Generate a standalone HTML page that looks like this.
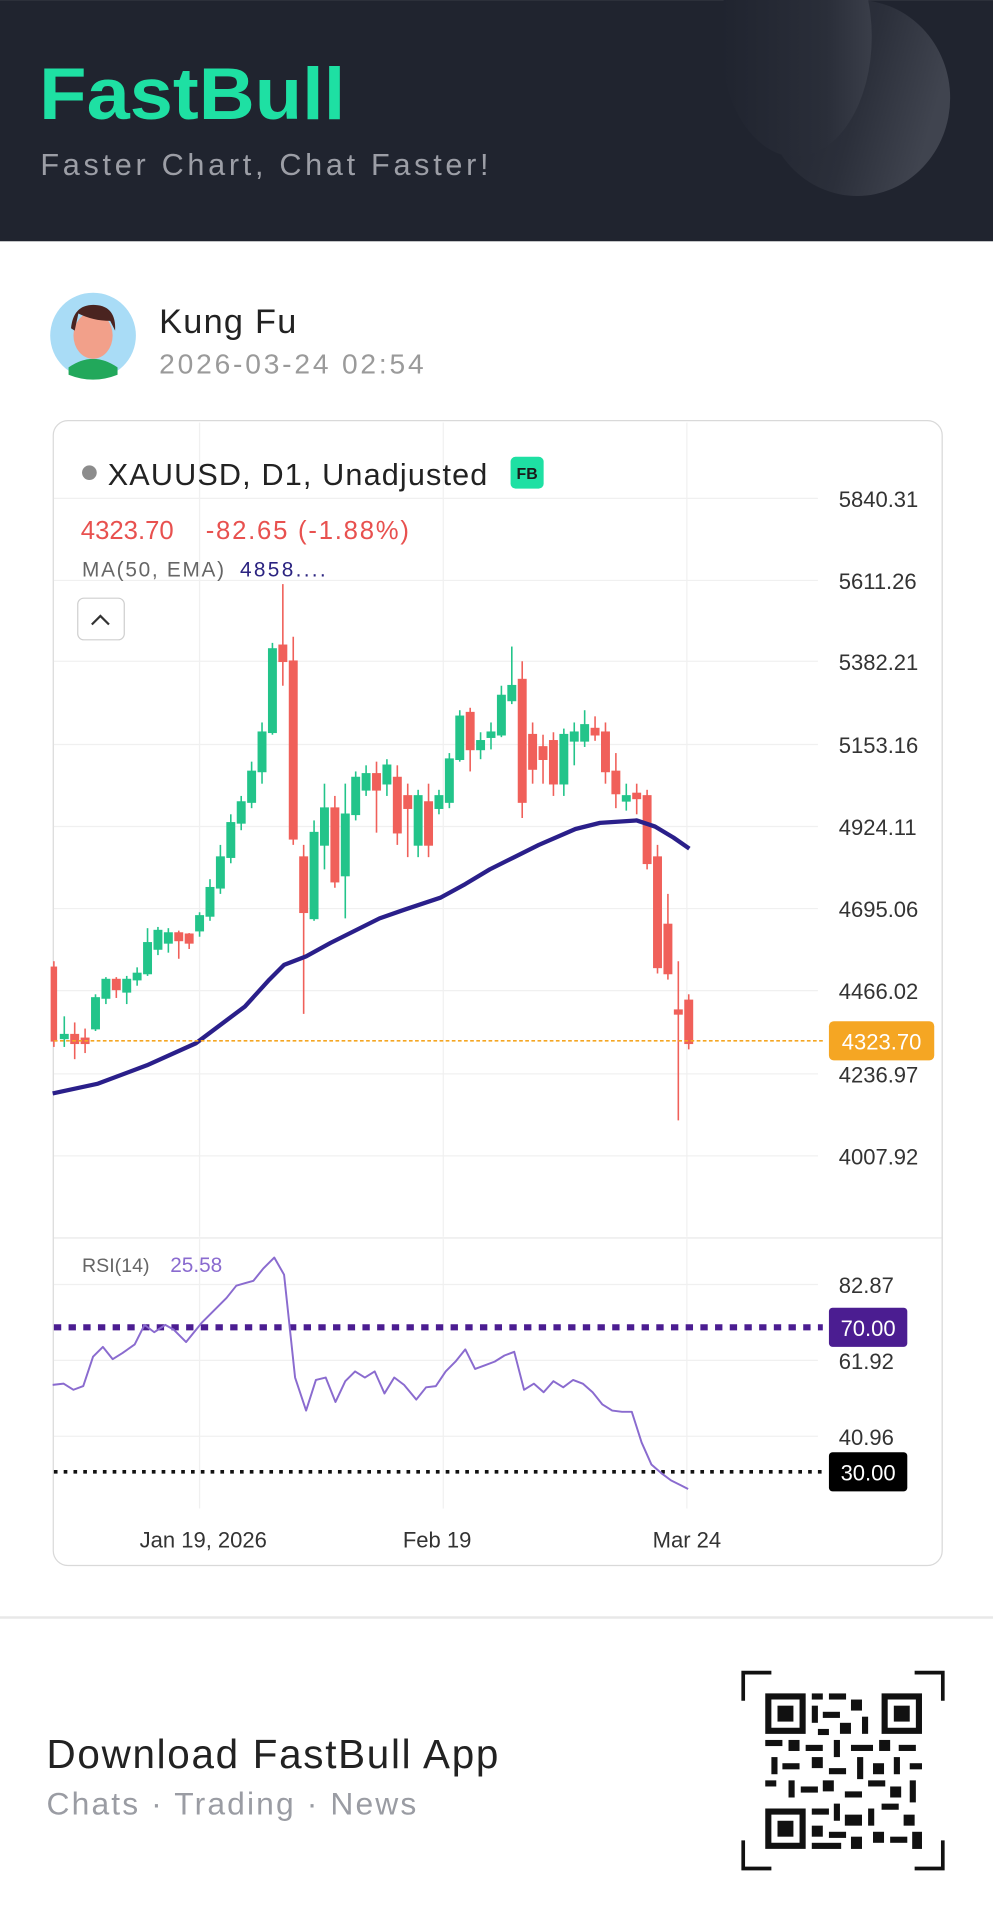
<!DOCTYPE html>
<html><head><meta charset="utf-8"><style>html,body{margin:0;padding:0;background:#fff}svg{display:block}</style></head><body>
<svg width="993" height="1920" viewBox="0 0 811 1568" xmlns="http://www.w3.org/2000/svg" font-family="Liberation Sans, sans-serif">
<defs>
<linearGradient id="g1" x1="0" y1="0" x2="1" y2="0"><stop offset="0" stop-color="#20242f"/><stop offset="0.7" stop-color="#2a2e39"/><stop offset="1" stop-color="#3a3e49"/></linearGradient>
<linearGradient id="g2" x1="0" y1="0" x2="1" y2="0.3"><stop offset="0" stop-color="#20242f"/><stop offset="0.6" stop-color="#2b2f3a"/><stop offset="1" stop-color="#40444f"/></linearGradient>
<clipPath id="hc"><rect x="0" y="0" width="811" height="197"/></clipPath>
</defs>
<rect x="0" y="0" width="811" height="197" fill="#20242f"/>
<g clip-path="url(#hc)">
<ellipse cx="700" cy="80" rx="76" ry="80" fill="url(#g2)"/>
<ellipse cx="650" cy="30" rx="62" ry="98" fill="url(#g1)"/>
</g>
<text x="32" y="97" font-size="60" font-weight="bold" fill="#1ee0a3" textLength="250" lengthAdjust="spacingAndGlyphs">FastBull</text>
<text x="33" y="143" font-size="25" fill="#9c9ea6" textLength="366" lengthAdjust="spacing">Faster Chart, Chat Faster!</text>

<circle cx="76" cy="274" r="35" fill="#a9dcf6"/>
<path d="M56 300 Q76 286 96 300 L96 306 Q76 314 56 306Z" fill="#22a85b"/>
<ellipse cx="76" cy="274" rx="16" ry="19" fill="#f2a08a"/>
<path d="M58 268 Q60 248 78 249 Q95 250 94 270 L90 262 Q76 262 64 256 L61 270Z" fill="#4a2420"/>
<text x="130" y="272" font-size="28" fill="#222" textLength="112" lengthAdjust="spacing">Kung Fu</text>
<text x="130" y="305" font-size="23" fill="#9a9a9a" textLength="216" lengthAdjust="spacing">2026-03-24 02:54</text>

<rect x="43.5" y="343.5" width="726" height="935" rx="12" fill="#fff" stroke="#d9d9d9"/>
<g stroke="#f0f0f0" stroke-width="1">
<line x1="44" y1="407" x2="668" y2="407"/><line x1="44" y1="474" x2="668" y2="474"/><line x1="44" y1="540" x2="668" y2="540"/><line x1="44" y1="608" x2="668" y2="608"/><line x1="44" y1="675" x2="668" y2="675"/><line x1="44" y1="742" x2="668" y2="742"/><line x1="44" y1="809" x2="668" y2="809"/><line x1="44" y1="877" x2="668" y2="877"/><line x1="44" y1="944" x2="668" y2="944"/>
<line x1="163" y1="345" x2="163" y2="1010"/><line x1="362" y1="345" x2="362" y2="1010"/><line x1="561" y1="345" x2="561" y2="1010"/>
<line x1="163" y1="1012" x2="163" y2="1232"/><line x1="362" y1="1012" x2="362" y2="1232"/><line x1="561" y1="1012" x2="561" y2="1232"/>
<line x1="44" y1="1049" x2="668" y2="1049"/><line x1="44" y1="1111" x2="668" y2="1111"/><line x1="44" y1="1173" x2="668" y2="1173"/>
</g>
<line x1="44" y1="1011" x2="769" y2="1011" stroke="#e6e6e6"/>

<circle cx="73" cy="386" r="6" fill="#8c8c8c"/>
<text x="88" y="396" font-size="25" fill="#222" textLength="310" lengthAdjust="spacing">XAUUSD, D1, Unadjusted</text>
<rect x="417" y="373" width="27" height="26" rx="4" fill="#1ee0a3"/>
<text x="430.5" y="391" font-size="13" font-weight="bold" fill="#1a1a1a" text-anchor="middle">FB</text>
<text x="66" y="440" font-size="21" fill="#e8514f">4323.70</text>
<text x="168" y="440" font-size="21" fill="#e8514f" textLength="166" lengthAdjust="spacing">-82.65 (-1.88%)</text>
<text x="67" y="471" font-size="17" fill="#666" textLength="116" lengthAdjust="spacing">MA(50, EMA)</text>
<text x="196" y="471" font-size="17" fill="#2b2380" textLength="70" lengthAdjust="spacing">4858....</text>
<rect x="63.5" y="488.5" width="38" height="34" rx="5" fill="#fff" stroke="#cfcfcf"/>
<path d="M75 510 L82 503 L89 510" fill="none" stroke="#333" stroke-width="1.8"/>

<g font-size="18" fill="#333">
<text x="685" y="414">5840.31</text><text x="685" y="481">5611.26</text><text x="685" y="547">5382.21</text><text x="685" y="615">5153.16</text><text x="685" y="682">4924.11</text><text x="685" y="749">4695.06</text><text x="685" y="816">4466.02</text><text x="685" y="884">4236.97</text><text x="685" y="951">4007.92</text>
</g>

<g>
<g stroke="#23c48a" fill="#23c48a" stroke-width="1.3">
<line x1="52.5" y1="830" x2="52.5" y2="855"/><rect x="49.5" y="845" width="6" height="3"/>
<line x1="78" y1="812" x2="78" y2="842"/><rect x="75" y="815" width="6" height="25"/>
<line x1="86.5" y1="798" x2="86.5" y2="820"/><rect x="83.5" y="800" width="6" height="15"/>
<line x1="103.5" y1="797" x2="103.5" y2="820"/><rect x="100.5" y="800" width="6" height="10"/>
<line x1="112" y1="790" x2="112" y2="805"/><rect x="109" y="795" width="6" height="5"/>
<line x1="120.5" y1="758" x2="120.5" y2="797"/><rect x="117.5" y="770" width="6" height="25"/>
<line x1="129" y1="757" x2="129" y2="780"/><rect x="126" y="760" width="6" height="15"/>
<line x1="137.5" y1="758" x2="137.5" y2="778"/><rect x="134.5" y="762" width="6" height="8"/>
<line x1="163" y1="745" x2="163" y2="765"/><rect x="160" y="748" width="6" height="12"/>
<line x1="171.5" y1="718" x2="171.5" y2="752"/><rect x="168.5" y="725" width="6" height="23"/>
<line x1="180" y1="690" x2="180" y2="730"/><rect x="177" y="700" width="6" height="25"/>
<line x1="188.5" y1="665" x2="188.5" y2="705"/><rect x="185.5" y="672" width="6" height="28"/>
<line x1="197" y1="650" x2="197" y2="678"/><rect x="194" y="655" width="6" height="17"/>
<line x1="205.5" y1="622" x2="205.5" y2="660"/><rect x="202.5" y="630" width="6" height="25"/>
<line x1="214" y1="590" x2="214" y2="640"/><rect x="211" y="598" width="6" height="32"/>
<line x1="222.5" y1="525" x2="222.5" y2="600"/><rect x="219.5" y="530" width="6" height="68"/>
<line x1="256.5" y1="670" x2="256.5" y2="752"/><rect x="253.5" y="680" width="6" height="70"/>
<line x1="265" y1="640" x2="265" y2="710"/><rect x="262" y="660" width="6" height="30"/>
<line x1="282" y1="640" x2="282" y2="750"/><rect x="279" y="665" width="6" height="50"/>
<line x1="290.5" y1="630" x2="290.5" y2="670"/><rect x="287.5" y="635" width="6" height="30"/>
<line x1="299" y1="625" x2="299" y2="650"/><rect x="296" y="632" width="6" height="13"/>
<line x1="316" y1="620" x2="316" y2="650"/><rect x="313" y="625" width="6" height="15"/>
<line x1="341.5" y1="645" x2="341.5" y2="700"/><rect x="338.5" y="650" width="6" height="40"/>
<line x1="358.5" y1="645" x2="358.5" y2="665"/><rect x="355.5" y="650" width="6" height="10"/>
<line x1="367" y1="615" x2="367" y2="660"/><rect x="364" y="620" width="6" height="35"/>
<line x1="375.5" y1="580" x2="375.5" y2="622"/><rect x="372.5" y="585" width="6" height="35"/>
<line x1="392.5" y1="598" x2="392.5" y2="620"/><rect x="389.5" y="605" width="6" height="7"/>
<line x1="401" y1="590" x2="401" y2="612"/><rect x="398" y="598" width="6" height="4"/>
<line x1="409.5" y1="560" x2="409.5" y2="602"/><rect x="406.5" y="568" width="6" height="32"/>
<line x1="418" y1="528" x2="418" y2="575"/><rect x="415" y="560" width="6" height="12"/>
<line x1="460.5" y1="595" x2="460.5" y2="650"/><rect x="457.5" y="600" width="6" height="40"/>
<line x1="469" y1="590" x2="469" y2="625"/><rect x="466" y="598" width="6" height="7"/>
<line x1="477.5" y1="580" x2="477.5" y2="610"/><rect x="474.5" y="592" width="6" height="13"/>
<line x1="511.5" y1="640" x2="511.5" y2="662"/><rect x="508.5" y="650" width="6" height="4"/>
</g>
<g stroke="#f0605a" fill="#f0605a" stroke-width="1.3">
<line x1="44" y1="785" x2="44" y2="855"/><rect x="42" y="790" width="4" height="60"/>
<line x1="61" y1="835" x2="61" y2="865"/><rect x="58" y="845" width="6" height="7"/>
<line x1="69.5" y1="840" x2="69.5" y2="860"/><rect x="66.5" y="848" width="6" height="4"/>
<line x1="95" y1="798" x2="95" y2="815"/><rect x="92" y="800" width="6" height="8"/>
<line x1="146" y1="760" x2="146" y2="783"/><rect x="143" y="762" width="6" height="6"/>
<line x1="154.5" y1="762" x2="154.5" y2="775"/><rect x="151.5" y="763" width="6" height="7"/>
<line x1="231" y1="477" x2="231" y2="560"/><rect x="228" y="527" width="6" height="13"/>
<line x1="239.5" y1="520" x2="239.5" y2="690"/><rect x="236.5" y="540" width="6" height="145"/>
<line x1="248" y1="690" x2="248" y2="828"/><rect x="245" y="700" width="6" height="45"/>
<line x1="273.5" y1="650" x2="273.5" y2="725"/><rect x="270.5" y="660" width="6" height="60"/>
<line x1="307.5" y1="622" x2="307.5" y2="680"/><rect x="304.5" y="632" width="6" height="13"/>
<line x1="324.5" y1="625" x2="324.5" y2="690"/><rect x="321.5" y="635" width="6" height="45"/>
<line x1="333" y1="640" x2="333" y2="700"/><rect x="330" y="650" width="6" height="10"/>
<line x1="350" y1="640" x2="350" y2="700"/><rect x="347" y="655" width="6" height="35"/>
<line x1="384" y1="578" x2="384" y2="630"/><rect x="381" y="582" width="6" height="30"/>
<line x1="426.5" y1="540" x2="426.5" y2="668"/><rect x="423.5" y="555" width="6" height="100"/>
<line x1="435" y1="590" x2="435" y2="640"/><rect x="432" y="600" width="6" height="28"/>
<line x1="443.5" y1="600" x2="443.5" y2="640"/><rect x="440.5" y="610" width="6" height="10"/>
<line x1="452" y1="598" x2="452" y2="650"/><rect x="449" y="605" width="6" height="35"/>
<line x1="486" y1="585" x2="486" y2="605"/><rect x="483" y="595" width="6" height="5"/>
<line x1="494.5" y1="590" x2="494.5" y2="640"/><rect x="491.5" y="598" width="6" height="32"/>
<line x1="503" y1="615" x2="503" y2="660"/><rect x="500" y="630" width="6" height="18"/>
<line x1="520" y1="640" x2="520" y2="665"/><rect x="517" y="648" width="6" height="4"/>
<line x1="528.5" y1="645" x2="528.5" y2="710"/><rect x="525.5" y="650" width="6" height="55"/>
<line x1="537" y1="690" x2="537" y2="795"/><rect x="534" y="700" width="6" height="90"/>
<line x1="545.5" y1="730" x2="545.5" y2="800"/><rect x="542.5" y="755" width="6" height="40"/>
<line x1="554" y1="785" x2="554" y2="915"/><rect x="551" y="825" width="6" height="3"/>
<line x1="562.5" y1="812" x2="562.5" y2="857"/><rect x="559.5" y="817" width="6" height="35"/>
</g>
</g>

<polyline fill="none" stroke="#2a1f8a" stroke-width="3.5" stroke-linejoin="round" points="43,893 80,885 120,870 160,852 200,822 220,800 232,788 250,781 270,770 290,760 310,750 330,743 360,733 380,722 400,710 420,700 440,690 470,677 490,672 520,670 535,675 550,684 563,693"/>
<line x1="44" y1="850" x2="672" y2="850" stroke="#f5a623" stroke-width="1.3" stroke-dasharray="3,2"/>
<rect x="677" y="834" width="86" height="32" rx="4" fill="#f5a623"/>
<text x="720" y="857" font-size="18" fill="#fff" text-anchor="middle">4323.70</text>

<text x="67" y="1039" font-size="16" fill="#666">RSI(14)</text>
<text x="139" y="1039" font-size="17" fill="#8a6bcf">25.58</text>
<g font-size="18" fill="#333"><text x="685" y="1056">82.87</text><text x="685" y="1118">61.92</text><text x="685" y="1180">40.96</text></g>
<line x1="44" y1="1084" x2="672" y2="1084" stroke="#4b1d91" stroke-width="5" stroke-dasharray="6,6"/>
<rect x="677" y="1068" width="64" height="32" rx="3" fill="#4b1d91"/>
<text x="709" y="1091" font-size="18" fill="#fff" text-anchor="middle">70.00</text>
<line x1="44" y1="1202" x2="672" y2="1202" stroke="#111" stroke-width="3" stroke-dasharray="3,5"/>
<rect x="677" y="1186" width="64" height="32" rx="3" fill="#000"/>
<text x="709" y="1209" font-size="18" fill="#fff" text-anchor="middle">30.00</text>
<polyline fill="none" stroke="#8a6bcf" stroke-width="1.6" stroke-linejoin="round" points="43,1131 52,1130 60,1135 68,1132 76,1108 84,1100 92,1110 100,1105 110,1098 118,1082 126,1088 135,1082 142,1086 152,1096 165,1080 175,1070 185,1060 193,1050 200,1048 207,1046 215,1036 224,1027 232,1041 241,1125 250,1152 258,1127 266,1125 274,1145 282,1128 290,1120 298,1125 306,1120 314,1138 322,1125 330,1131 340,1143 348,1133 356,1132 364,1120 372,1112 380,1102 388,1118 396,1115 404,1112 412,1107 420,1104 428,1135 436,1130 444,1137 452,1128 460,1133 468,1127 476,1130 484,1137 492,1147 500,1152 508,1153 516,1153 524,1178 532,1196 540,1203 548,1209 556,1213 562,1216"/>
<g font-size="18" fill="#333" text-anchor="middle"><text x="166" y="1264">Jan 19, 2026</text><text x="357" y="1264">Feb 19</text><text x="561" y="1264">Mar 24</text></g>

<rect x="0" y="1320" width="811" height="2" fill="#e8e8e8"/>
<text x="38" y="1444" font-size="33" fill="#222" textLength="369" lengthAdjust="spacing">Download FastBull App</text>
<text x="38" y="1482" font-size="26" fill="#9a9ca3" textLength="302" lengthAdjust="spacing">Chats · Trading · News</text>

<g fill="none" stroke="#111" stroke-width="3">
<path d="M607 1389 V1366 H630"/><path d="M747 1366 H770 V1389"/><path d="M607 1503 V1526 H630"/><path d="M747 1526 H770 V1503"/>
</g>
<g fill="#111">
<path d="M625 1383h33v33h-33zM630 1388v23h23v-23z" fill-rule="evenodd"/><rect x="635" y="1393" width="13" height="13"/>
<path d="M720 1383h33v33h-33zM725 1388v23h23v-23z" fill-rule="evenodd"/><rect x="730" y="1393" width="13" height="13"/>
<path d="M625 1477h33v33h-33zM630 1482v23h23v-23z" fill-rule="evenodd"/><rect x="635" y="1487" width="13" height="13"/>
<rect x="663" y="1383" width="9" height="5"/><rect x="677" y="1383" width="14" height="5"/><rect x="695" y="1388" width="9" height="9"/><rect x="663" y="1393" width="5" height="14"/><rect x="672" y="1398" width="14" height="5"/><rect x="686" y="1407" width="9" height="9"/><rect x="704" y="1402" width="5" height="14"/><rect x="668" y="1412" width="9" height="5"/>
<rect x="625" y="1421" width="14" height="5"/><rect x="644" y="1421" width="9" height="9"/><rect x="658" y="1425" width="14" height="5"/><rect x="681" y="1421" width="5" height="14"/><rect x="695" y="1425" width="18" height="5"/><rect x="718" y="1421" width="9" height="9"/><rect x="734" y="1425" width="14" height="5"/>
<rect x="630" y="1435" width="5" height="14"/><rect x="639" y="1440" width="14" height="5"/><rect x="663" y="1435" width="9" height="9"/><rect x="677" y="1444" width="14" height="5"/><rect x="700" y="1435" width="5" height="18"/><rect x="713" y="1440" width="9" height="9"/><rect x="730" y="1435" width="5" height="14"/><rect x="743" y="1440" width="10" height="5"/>
<rect x="625" y="1454" width="9" height="5"/><rect x="644" y="1454" width="5" height="14"/><rect x="654" y="1459" width="14" height="5"/><rect x="672" y="1454" width="9" height="9"/><rect x="690" y="1463" width="14" height="5"/><rect x="709" y="1454" width="14" height="5"/><rect x="727" y="1459" width="9" height="9"/><rect x="743" y="1454" width="5" height="18"/>
<rect x="663" y="1477" width="14" height="5"/><rect x="681" y="1473" width="5" height="14"/><rect x="690" y="1482" width="14" height="9"/><rect x="709" y="1477" width="5" height="14"/><rect x="720" y="1473" width="14" height="5"/><rect x="738" y="1482" width="9" height="9"/>
<rect x="663" y="1491" width="9" height="9"/><rect x="677" y="1496" width="14" height="5"/><rect x="695" y="1500" width="9" height="10"/><rect x="713" y="1496" width="9" height="9"/><rect x="727" y="1500" width="14" height="5"/><rect x="745" y="1496" width="8" height="14"/><rect x="663" y="1505" width="24" height="5"/>
</g>
</svg>
</body></html>
